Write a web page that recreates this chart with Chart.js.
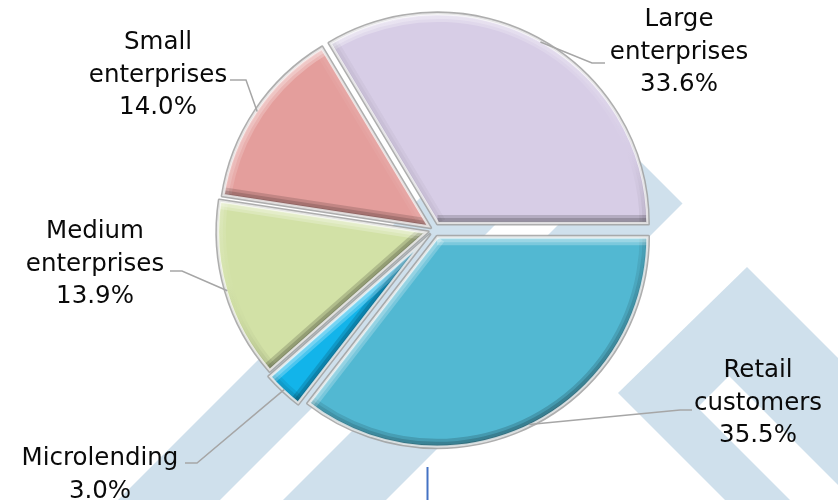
<!DOCTYPE html>
<html>
<head>
<meta charset="utf-8">
<script src="https://cdn.jsdelivr.net/npm/chart.js@4.4.1/dist/chart.umd.min.js"></script>
<style>
  html, body { margin: 0; padding: 0; background: #ffffff; }
  #wrap { width: 838px; height: 500px; position: relative; }
</style>
</head>
<body>
<div id="wrap"><canvas id="loanPie" width="838" height="500"></canvas></div>
<script>
// Loan portfolio structure by client segment, %
const categories = ['Retail customers', 'Microlending', 'Medium enterprises', 'Small enterprises', 'Large enterprises'];
const shares = [35.5, 3.0, 13.9, 14.0, 33.6];

// Slice styling
const sliceColors = ['#52b8d2', '#12b4ea', '#d2e1a6', '#e49e9c', '#d7cde6'];
const sliceOffsets = [28, 24, 24, 16, 28];

// Label block placement: centre x, first baseline y, leader elbow and leader end
const labelLayout = [
  { x: 758, y: 377, elbow: [680, 410], end: [692, 410] },
  { x: 100, y: 465, elbow: [197, 463], end: [185, 463] },
  { x: 95,  y: 238, elbow: [182, 271], end: [170, 271] },
  { x: 158, y: 49,  elbow: [246, 80],  end: [230, 80] },
  { x: 679, y: 26,  elbow: [592, 63],  end: [605, 63] }
];

// Background logo bands (light diagonal stripes)
const logoBands = [
  [[548.5, 69.5], [599.5, 120.5], [200, 520], [98, 520]],
  [[631, 152], [682.5, 203.5], [366, 520], [263, 520]],
  [[747, 267], [1000, 520], [745, 520], [618, 393]]
];
const logoNotch = [[729, 376], [697.5, 407.5], [810, 520], [873, 520]];

const LIGHT = (() => { const x = -0.35, y = -0.94, l = Math.hypot(x, y); return [x / l, y / l]; })();

function shade(nx, ny, hi, lo) {
  const s = nx * LIGHT[0] + ny * LIGHT[1];
  return s >= 0 ? `rgba(255,255,255,${(hi * s).toFixed(3)})` : `rgba(0,0,0,${(-lo * s).toFixed(3)})`;
}

// Geometry of a slice as Chart.js draws it (offset shifts along the mid angle)
function wedgeGeom(arc) {
  const p = arc.getProps(['x', 'y', 'startAngle', 'endAngle', 'outerRadius'], true);
  const off = (arc.options.offset || 0) / 4;
  const half = (p.startAngle + p.endAngle) / 2;
  const circ = p.endAngle - p.startAngle;
  const fix = 1 - Math.sin(Math.min(Math.PI, circ));
  return {
    cx: p.x + Math.cos(half) * off,
    cy: p.y + Math.sin(half) * off,
    r: p.outerRadius + off * fix,
    a0: p.startAngle, a1: p.endAngle, half
  };
}

function wedgePath(ctx, g) {
  ctx.beginPath();
  ctx.moveTo(g.cx, g.cy);
  ctx.arc(g.cx, g.cy, g.r, g.a0, g.a1);
  ctx.closePath();
}

function poly(ctx, pts) {
  ctx.beginPath();
  pts.forEach((p, i) => i ? ctx.lineTo(p[0], p[1]) : ctx.moveTo(p[0], p[1]));
  ctx.closePath();
}

const logoPlugin = {
  id: 'logoBackdrop',
  beforeDatasetsDraw(chart) {
    const ctx = chart.ctx;
    ctx.save();
    ctx.filter = 'blur(0.6px)';
    ctx.fillStyle = '#cfe0ec';
    logoBands.forEach(b => { poly(ctx, b); ctx.fill(); });
    ctx.fillStyle = '#ffffff';
    poly(ctx, logoNotch); ctx.fill();
    ctx.restore();
  }
};

const bevelPlugin = {
  id: 'bevel',
  afterDatasetsDraw(chart) {
    const ctx = chart.ctx;
    const arcs = chart.getDatasetMeta(0).data;
    arcs.forEach(arc => {
      const g = wedgeGeom(arc);
      ctx.save();
      wedgePath(ctx, g);
      ctx.clip();
      // graded rim: three passes, widest first
      [18, 12, 6].forEach(w => {
        const cg = ctx.createConicGradient(0, g.cx, g.cy);
        for (let k = 0; k <= 48; k++) {
          const a = k / 48 * 2 * Math.PI;
          cg.addColorStop(k / 48, shade(Math.cos(a), Math.sin(a), 0.26, 0.17));
        }
        ctx.lineWidth = w;
        ctx.strokeStyle = cg;
        ctx.beginPath();
        ctx.arc(g.cx, g.cy, g.r, g.a0 - 0.2, g.a1 + 0.2);
        ctx.stroke();
        [[g.a0, -1], [g.a1, 1]].forEach(([a, sgn]) => {
          const n = a + sgn * Math.PI / 2;
          ctx.strokeStyle = shade(Math.cos(n), Math.sin(n), 0.26, 0.17);
          ctx.beginPath();
          ctx.moveTo(g.cx, g.cy);
          ctx.lineTo(g.cx + Math.cos(a) * g.r * 1.1, g.cy + Math.sin(a) * g.r * 1.1);
          ctx.stroke();
        });
      });
      ctx.restore();

      // outline: grey outside, pale inside
      ctx.save();
      ctx.lineJoin = 'round';
      wedgePath(ctx, g);
      ctx.lineWidth = 3;
      ctx.strokeStyle = 'rgba(160,160,160,0.85)';
      ctx.stroke();
      wedgePath(ctx, g);
      ctx.clip();
      wedgePath(ctx, g);
      ctx.lineWidth = 4.5;
      ctx.strokeStyle = 'rgba(255,255,255,0.7)';
      ctx.stroke();
      ctx.restore();
    });
  }
};

const labelPlugin = {
  id: 'sliceLabels',
  afterDatasetsDraw(chart) {
    const ctx = chart.ctx;
    const arcs = chart.getDatasetMeta(0).data;
    arcs.forEach((arc, i) => {
      const g = wedgeGeom(arc);
      const lay = labelLayout[i];
      const ax = g.cx + Math.cos(g.half) * (g.r - 2);
      const ay = g.cy + Math.sin(g.half) * (g.r - 2);
      ctx.save();
      ctx.strokeStyle = '#a6a6a6';
      ctx.lineWidth = 1.5;
      ctx.beginPath();
      ctx.moveTo(ax, ay);
      ctx.lineTo(lay.elbow[0], lay.elbow[1]);
      ctx.lineTo(lay.end[0], lay.end[1]);
      ctx.stroke();

      const lines = categories[i].split(' ').concat([shares[i].toFixed(1) + '%']);
      ctx.font = '24.5px "DejaVu Sans"';
      ctx.fillStyle = '#0a0a0a';
      ctx.textAlign = 'center';
      ctx.textBaseline = 'alphabetic';
      lines.forEach((t, k) => ctx.fillText(t, lay.x, lay.y + k * 32.5));
      ctx.restore();
    });

    // thin marker line below the pie
    ctx.save();
    ctx.strokeStyle = '#4472c4';
    ctx.lineWidth = 2;
    ctx.beginPath();
    ctx.moveTo(427.5, 467);
    ctx.lineTo(427.5, 500);
    ctx.stroke();
    ctx.restore();
  }
};

new Chart(document.getElementById('loanPie'), {
  type: 'pie',
  data: {
    labels: categories,
    datasets: [{
      data: shares,
      backgroundColor: sliceColors,
      offset: sliceOffsets,
      hoverOffset: 0,
      borderWidth: 0
    }]
  },
  options: {
    responsive: false,
    animation: false,
    events: [],
    rotation: 90,
    radius: 210,
    layout: { padding: { left: 30, right: 0, top: 0, bottom: 40 } },
    plugins: { legend: { display: false }, tooltip: { enabled: false } }
  },
  plugins: [logoPlugin, bevelPlugin, labelPlugin]
});
</script>
</body>
</html>
